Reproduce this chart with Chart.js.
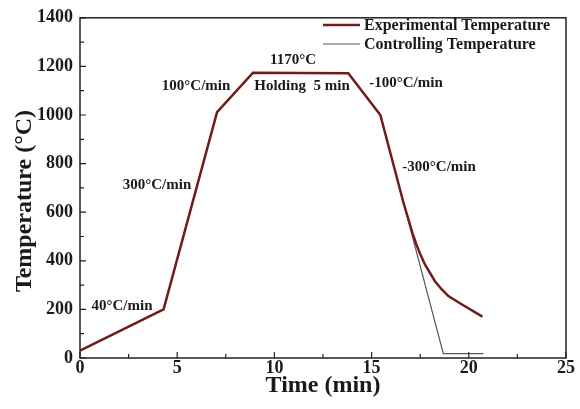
<!DOCTYPE html>
<html>
<head>
<meta charset="utf-8">
<script src="https://cdn.jsdelivr.net/npm/chart.js@4.4.1/dist/chart.umd.min.js"></script>
<style>
  body { margin: 0; background: #fff; }
</style>
</head>
<body>
<canvas id="tempChart" width="580" height="409"></canvas>
<script>
// experimental (measured) curve
const expTime = [0, 4.3, 7.05, 8.9, 13.8, 15.45, 16.63, 17.1, 17.3, 17.5, 17.75, 18.26, 18.6, 18.95, 19.63, 20.7];
const expTemp = [30, 200, 1012, 1174, 1172, 1000, 642, 515, 468, 428, 384, 316, 283, 255, 221, 170];

// controlling (set point) curve
const ctrlTime = [0, 4.3, 7.05, 8.9, 13.8, 15.45, 18.69, 20.75];
const ctrlTemp = [30, 200, 1012, 1174, 1172, 1000, 18, 18];

const xTicks = [0, 5, 10, 15, 20, 25];
const yTicks = [0, 200, 400, 600, 800, 1000, 1200, 1400];

const notes = [
  { text: "40°C/min", x: 2.16, y: 214 },
  { text: "300°C/min", x: 3.96, y: 711 },
  { text: "100°C/min", x: 5.97, y: 1118 },
  { text: "1170°C", x: 10.96, y: 1224 },
  { text: "Holding  5 min", x: 11.42, y: 1118 },
  { text: "-100°C/min", x: 16.77, y: 1130 },
  { text: "-300°C/min", x: 18.47, y: 784 }
];

const serif = "'Liberation Serif', 'Times New Roman', serif";
Chart.defaults.font.family = serif;
Chart.defaults.color = "#1a1a1a";

const toPoints = (xs, ys) => xs.map((x, i) => ({ x: x, y: ys[i] }));

const extras = {
  id: "extras",
  afterDatasetsDraw(chart) {
    const { ctx, chartArea: a, scales: { x, y } } = chart;
    ctx.save();
    // frame
    ctx.strokeStyle = "#222";
    ctx.lineWidth = 1.5;
    ctx.strokeRect(a.left, a.top, a.right - a.left, a.bottom - a.top);

    // inward ticks, minor ones in between
    ctx.lineWidth = 1.2;
    ctx.beginPath();
    for (let v = 0; v <= 25; v += 2.5) {
      const px = x.getPixelForValue(v);
      const len = v % 5 === 0 ? 6 : 4;
      ctx.moveTo(px, a.bottom);
      ctx.lineTo(px, a.bottom - len);
    }
    for (let v = 0; v <= 1400; v += 100) {
      const py = y.getPixelForValue(v);
      const len = v % 200 === 0 ? 6 : 4;
      ctx.moveTo(a.left, py);
      ctx.lineTo(a.left + len, py);
    }
    ctx.stroke();

    // rate annotations
    ctx.fillStyle = "#1a1a1a";
    ctx.font = "bold 15px " + serif;
    ctx.textAlign = "center";
    ctx.textBaseline = "middle";
    notes.forEach(n => {
      ctx.fillText(n.text, x.getPixelForValue(n.x), y.getPixelForValue(n.y));
    });

    // legend in the top right corner
    ctx.font = "bold 16px " + serif;
    ctx.textAlign = "left";
    chart.data.datasets.forEach((ds, i) => {
      const ly = 26 + i * 19;
      ctx.strokeStyle = ds.borderColor;
      ctx.lineWidth = ds.borderWidth;
      ctx.beginPath();
      ctx.moveTo(323, ly - 1);
      ctx.lineTo(360, ly - 1);
      ctx.stroke();
      ctx.fillText(ds.label, 364, ly);
    });

    // y axis title
    ctx.translate(25, 201);
    ctx.rotate(-Math.PI / 2);
    ctx.textAlign = "center";
    ctx.font = "bold 24px " + serif;
    ctx.fillText("Temperature (°C)", 0, 0);
    ctx.restore();
  }
};

new Chart(document.getElementById("tempChart").getContext("2d"), {
  type: "line",
  data: {
    datasets: [
      {
        label: "Experimental Temperature",
        data: toPoints(expTime, expTemp),
        borderColor: "#701c1c",
        borderWidth: 2.5,
        pointRadius: 0,
        tension: 0
      },
      {
        label: "Controlling Temperature",
        data: toPoints(ctrlTime, ctrlTemp),
        borderColor: "#555",
        borderWidth: 1.2,
        pointRadius: 0,
        tension: 0
      }
    ]
  },
  options: {
    responsive: false,
    animation: false,
    layout: { padding: { top: 14, right: 14, left: 0, bottom: 0 } },
    plugins: { legend: { display: false }, tooltip: { enabled: false } },
    scales: {
      x: {
        type: "linear",
        min: 0,
        max: 25,
        afterBuildTicks: s => { s.ticks = xTicks.map(v => ({ value: v })); },
        afterFit: s => { s.height = 51; },
        grid: { display: false, drawTicks: false },
        border: { display: false },
        ticks: { font: { size: 18, weight: "bold" }, padding: 0, maxRotation: 0 },
        title: { display: true, text: "Time (min)", font: { size: 24, weight: "bold" }, padding: 9 }
      },
      y: {
        min: 0,
        max: 1400,
        afterBuildTicks: s => { s.ticks = yTicks.map(v => ({ value: v })); },
        afterFit: s => { s.width = 80; },
        grid: { display: false, drawTicks: false },
        border: { display: false },
        ticks: { font: { size: 18, weight: "bold" }, padding: 7, callback: v => String(v) }
      }
    }
  },
  plugins: [extras]
});
</script>
</body>
</html>
